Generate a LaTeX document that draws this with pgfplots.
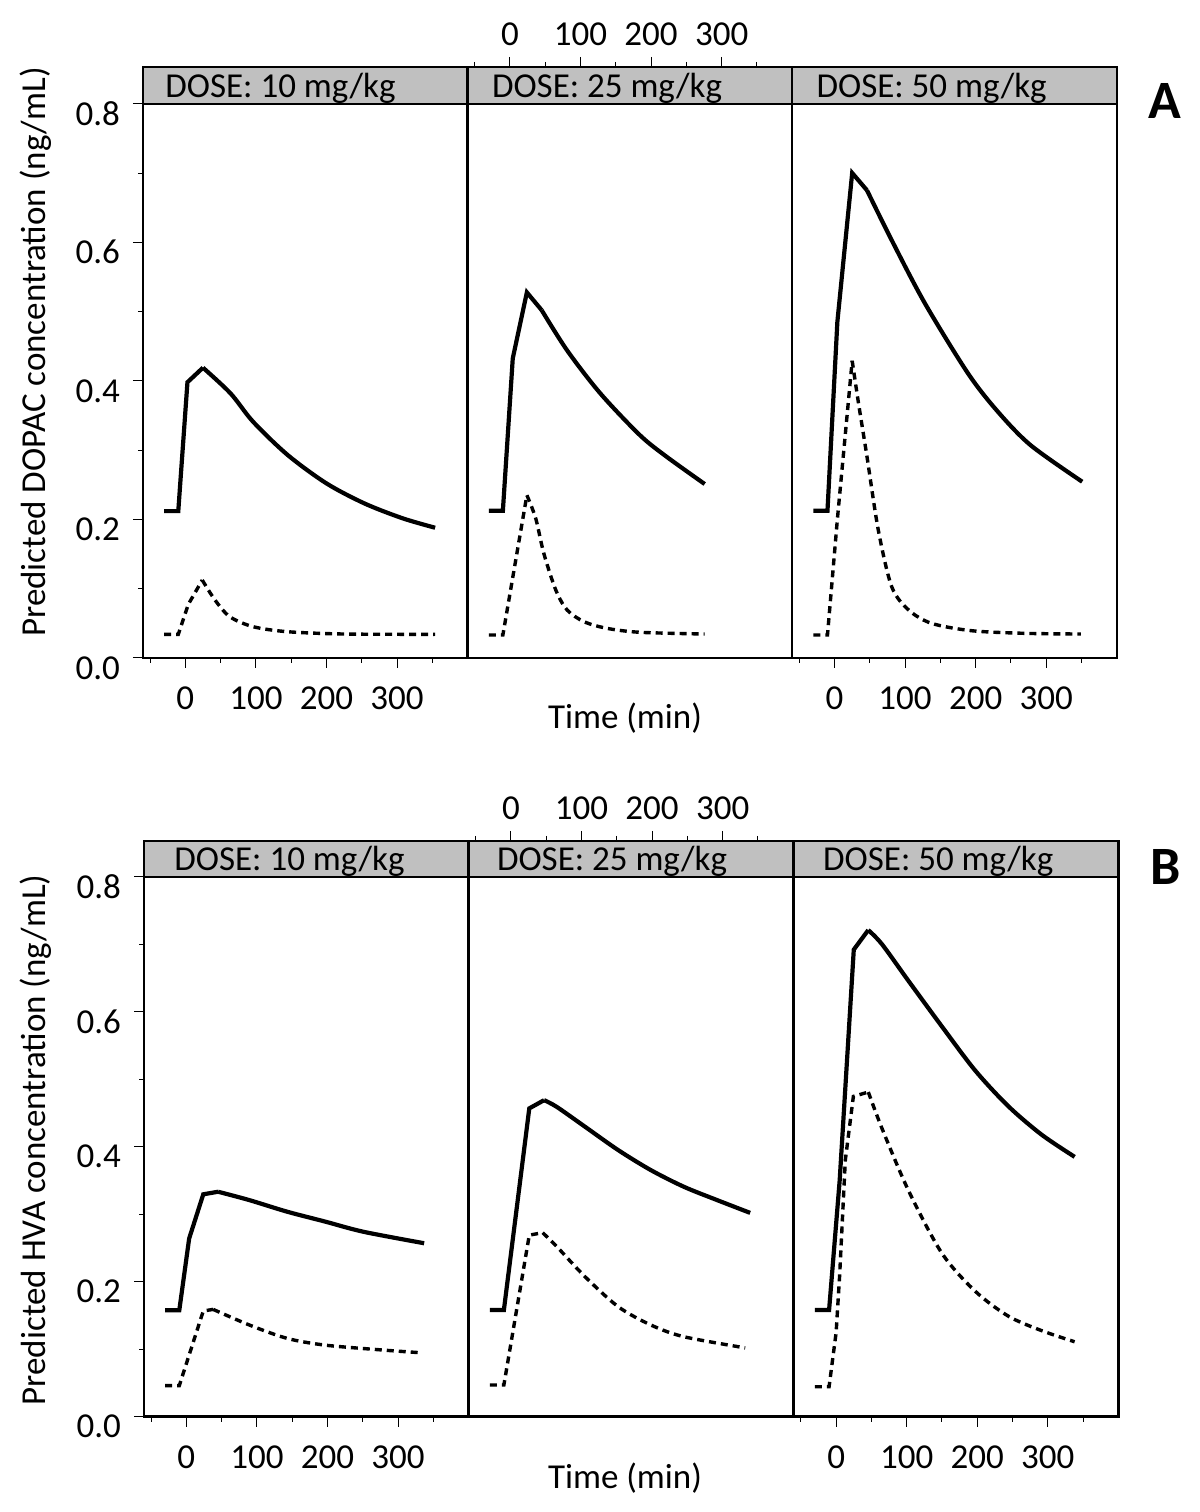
\documentclass[border=0pt]{standalone}
\usepackage{pgfplots}
\pgfplotsset{compat=1.18}
\usepackage{fontspec}
\setmainfont{Carlito}
\definecolor{hdr}{RGB}{192,192,192}
\newcommand{\fs}{\fontsize{17.5}{21}\selectfont}
\newcommand{\panelhead}[2]{%
  \draw[line width=1.2pt, fill=hdr] (rel axis cs:0,0.93787) rectangle (rel axis cs:1,1);
  \node[anchor=base west, inner sep=0pt, font=\fs] at ([xshift=#1]rel axis cs:0,0.9484) {#2};}
\begin{document}
\begin{tikzpicture}
\useasboundingbox (0,0) rectangle (600pt,756pt);
\pgfplotsset{
 panel/.style={
  scale only axis, width=162.3pt,
  xmin=-60, xmax=400, ymin=0, ymax=0.853,
  clip=false,
  axis line style={line width=1.2pt},
  tick align=outside,
  major tick length=5pt, minor tick length=2.5pt,
  every tick/.style={black, line width=0.5pt},
  xtick={0,100,200,300}, xticklabels={0,100,200,300},
  minor xtick={-50,50,150,250,350},
  tick label style={font=\fs},
  /pgf/number format/assume math mode=true,
 },
 lowpanel/.style={xtick pos=bottom, xticklabel style={yshift=-6pt}},
 toppanel/.style={xtick pos=top, xticklabel style={yshift=2pt}},
 noy/.style={ytick=\empty},
 withy/.style={ytick pos=left,
   ytick={0,0.2,0.4,0.6,0.8}, yticklabels={0.0,0.2,0.4,0.6,0.8},
   minor ytick={0.1,0.3,0.5,0.7},
   yticklabel style={yshift=-5pt, xshift=-3pt}},
 solidc/.style={black, line width=2.1pt, no marks},
 dotc/.style={black, line width=1.7pt, dash pattern=on 3.5pt off 2.5pt, no marks},
 sm/.style={smooth, tension=0.5},
}
% ---------------- Row A (DOPAC) ----------------
\begin{axis}[panel, lowpanel, withy, at={(71.5pt,427pt)}, anchor=south west, height=295.5pt]
\addplot[solidc] coordinates {(-30,0.212) (-10,0.212) (3,0.398) (25,0.419)};
\addplot[solidc, sm] coordinates {(25,0.419) (64,0.382) (96,0.341) (145,0.293) (200,0.252) (254,0.223) (308,0.2016) (354,0.188)};
\addplot[dotc] coordinates {(-30,0.034) (-10,0.034) (4,0.077) (24,0.1125)};
\addplot[dotc, sm] coordinates {(24,0.1125) (42,0.0837) (63,0.0596) (96,0.0452) (144,0.038) (225,0.0346) (354,0.0342)};
\panelhead{11pt}{DOSE: 10 mg/kg}
\end{axis}
\begin{axis}[panel, toppanel, noy, at={(233.8pt,427pt)}, anchor=south west, height=295.5pt]
\addplot[solidc] coordinates {(-30,0.2126) (-10,0.2126) (4,0.4324) (24,0.5277) (45,0.502)};
\addplot[solidc, sm] coordinates {(45,0.502) (81,0.444) (128,0.382) (184,0.3218) (222,0.2905) (276,0.2511)};
\addplot[dotc] coordinates {(-30,0.0332) (-10,0.0332) (24,0.235)};
\addplot[dotc, sm] coordinates {(24,0.235) (36.5,0.2016) (48,0.151) (65,0.098) (81,0.0693) (105,0.0524) (137.5,0.0428) (184,0.0371) (276,0.0346)};
\panelhead{12pt}{DOSE: 25 mg/kg}
\end{axis}
\begin{axis}[panel, lowpanel, noy, at={(396.1pt,427pt)}, anchor=south west, height=295.5pt]
\addplot[solidc] coordinates {(-30,0.2126) (-10,0.2126) (4,0.485) (25,0.700) (46,0.675)};
\addplot[solidc, sm] coordinates {(46,0.675) (81,0.603) (128,0.512) (189,0.411) (231,0.356) (278,0.307) (351,0.2544)};
\addplot[dotc] coordinates {(-30,0.0332) (-10,0.0332) (4,0.2) (25,0.429)};
\addplot[dotc, sm] coordinates {(25,0.429) (34,0.3675) (46,0.2905) (62,0.1847) (81,0.1029) (105,0.0693) (137.5,0.050) (194,0.0394) (269,0.0356) (349,0.0346)};
\panelhead{12pt}{DOSE: 50 mg/kg}
\end{axis}
% ---------------- Row B (HVA) ----------------
\begin{axis}[panel, lowpanel, withy, at={(72pt,47.65pt)}, anchor=south west, height=287.85pt]
\addplot[solidc] coordinates {(-30,0.1576) (-10,0.1576) (4,0.264) (24,0.3295) (45,0.3333)};
\addplot[solidc, sm] coordinates {(45,0.3333) (89,0.321) (143,0.3037) (197,0.289) (251,0.274) (337,0.257)};
\addplot[dotc] coordinates {(-30,0.046) (-10,0.046) (24,0.1566) (38,0.159)};
\addplot[dotc, sm] coordinates {(38,0.159) (89,0.136) (143,0.116) (197,0.106) (278,0.0988) (332,0.0948)};
\panelhead{15pt}{DOSE: 10 mg/kg}
\end{axis}
\begin{axis}[panel, toppanel, noy, at={(234.3pt,47.65pt)}, anchor=south west, height=287.85pt]
\addplot[solidc] coordinates {(-30,0.158) (-10,0.158) (26,0.4568) (47,0.469)};
\addplot[solidc, sm] coordinates {(47,0.469) (65,0.459) (105,0.4296) (152,0.395) (198,0.3655) (245,0.3407) (292,0.321) (339,0.302)};
\addplot[dotc] coordinates {(-30,0.047) (-10,0.047) (26,0.269) (45,0.2726)};
\addplot[dotc, sm] coordinates {(45,0.2726) (65,0.252) (105,0.2074) (152,0.163) (198,0.136) (245,0.1185) (332,0.102)};
\panelhead{14pt}{DOSE: 25 mg/kg}
\end{axis}
\begin{axis}[panel, lowpanel, noy, at={(396.9pt,47.65pt)}, anchor=south west, height=287.85pt]
\addplot[solidc] coordinates {(-30,0.158) (-10,0.158) (5,0.35) (25,0.692) (45.5,0.721)};
\addplot[solidc, sm] coordinates {(45.5,0.721) (65,0.70) (103,0.645) (150,0.578) (197,0.513) (244,0.46) (291,0.418) (338,0.385)};
\addplot[dotc] coordinates {(-30,0.0444) (-10,0.0444) (0,0.125) (5,0.21) (13,0.38) (24.4,0.4745) (45.6,0.481)};
\addplot[dotc, sm] coordinates {(45.6,0.481) (65.4,0.426) (103,0.334) (150,0.242) (197,0.186) (244,0.149) (291,0.1276) (338,0.111)};
\panelhead{14.5pt}{DOSE: 50 mg/kg}
\end{axis}
% ---------------- labels ----------------
\node[rotate=90, font=\fs] at (18pt,580pt) {Predicted DOPAC concentration (ng/mL)};
\node[rotate=90, font=\fs] at (18pt,186pt) {Predicted HVA concentration (ng/mL)};
\node[font=\fs] at (312.5pt,397pt) {Time (min)};
\node[font=\fs] at (312.5pt,17pt) {Time (min)};
\node[font=\fontsize{27}{30}\selectfont\bfseries] at (582.5pt,705.5pt) {A};
\node[font=\fontsize{27}{30}\selectfont\bfseries] at (583pt,322.5pt) {B};
\end{tikzpicture}
\end{document}
